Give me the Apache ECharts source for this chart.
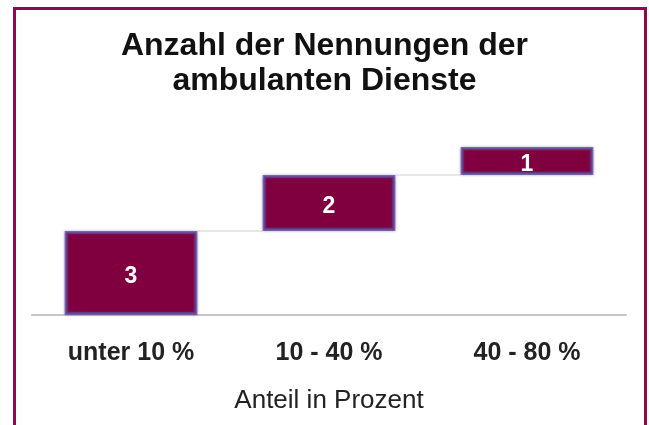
<!DOCTYPE html>
<html>
<head>
<meta charset="utf-8">
<script src="https://cdn.jsdelivr.net/npm/echarts@6/dist/echarts.min.js"></script>
<style>
html,body{margin:0;padding:0;background:#fff;}
#rahmen{position:absolute;left:13px;top:7px;width:628px;height:440px;border:3px solid #8b0b52;border-bottom:none;}
#chart{position:absolute;left:0;top:0;width:649px;height:425px;}
</style>
</head>
<body>
<div id="rahmen"></div>
<div id="chart"></div>
<script>
// Daten
var kategorien = ['unter 10 %', '10 - 40 %', '40 - 80 %'];
var nennungen = [3, 2, 1];

// Basis fuer den Wasserfall (Summe der vorherigen Werte)
var basis = [];
var summe = [];
var s = 0;
for (var i = 0; i < nennungen.length; i++) {
    basis.push(s);
    s += nennungen[i];
    summe.push(s);
}

var chart = echarts.init(document.getElementById('chart'));

var option = {
    animation: false,
    title: {
        text: 'Anzahl der Nennungen der\nambulanten Dienste',
        left: 'center',
        top: 24,
        textStyle: {
            fontFamily: 'Liberation Sans, Arial',
            fontSize: 32,
            fontWeight: 'bold',
            color: '#111',
            lineHeight: 35
        }
    },
    grid: {left: 32, right: 23, top: 91, bottom: 110},
    xAxis: {
        type: 'category',
        data: kategorien,
        name: 'Anteil in Prozent',
        nameLocation: 'middle',
        nameGap: 73,
        nameTextStyle: {fontFamily: 'Liberation Sans, Arial', fontSize: 26, color: '#222'},
        axisLine: {lineStyle: {color: '#c6c6c6', width: 2}},
        axisTick: {show: false},
        axisLabel: {
            margin: 26,
            fontFamily: 'Liberation Sans, Arial',
            fontSize: 25,
            fontWeight: 'bold',
            color: '#222'
        }
    },
    yAxis: {
        type: 'value',
        min: 0,
        max: 8,
        show: false,
        splitLine: {show: false}
    },
    series: [
        {
            type: 'bar',
            stack: 'w',
            data: basis,
            barWidth: '67%',
            itemStyle: {color: 'transparent'},
            silent: true
        },
        {
            type: 'bar',
            stack: 'w',
            data: nennungen,
            barWidth: '67%',
            itemStyle: {
                color: '#80003f',
                borderColor: 'rgba(95,70,150,0.75)',
                borderWidth: 3,
                shadowBlur: 3,
                shadowColor: 'rgba(95,70,160,0.6)'
            },
            label: {
                show: true,
                position: 'inside',
                offset: [0, 4],
                color: '#fff',
                fontFamily: 'Liberation Sans, Arial',
                fontSize: 23,
                fontWeight: 'bold'
            }
        },
        {
            // Verbindungslinien zwischen den Balken
            type: 'custom',
            data: summe.slice(0, summe.length - 1).map(function (v, i) { return [i, v]; }),
            renderItem: function (params, api) {
                var p = api.coord([api.value(0), api.value(1)]);
                var band = api.size([1, 0])[0];
                var halb = band * 0.67 / 2;
                return {
                    type: 'line',
                    shape: {x1: p[0] + halb, y1: p[1], x2: p[0] + band - halb, y2: p[1]},
                    style: {stroke: '#cfcfcf', lineWidth: 1}
                };
            },
            z: 1
        }
    ]
};
chart.setOption(option);
</script>
</body>
</html>
